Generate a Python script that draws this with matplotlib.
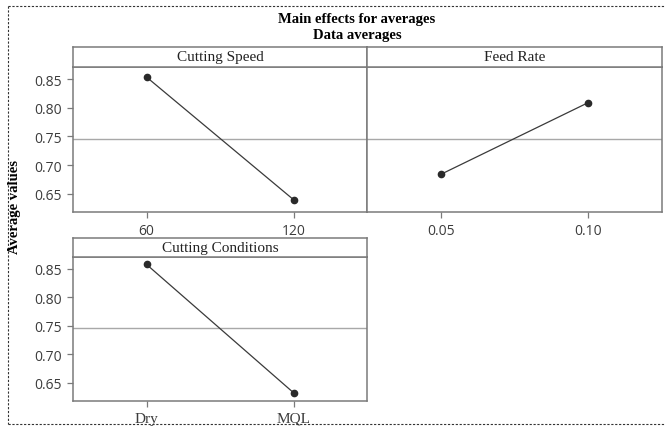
# Main effects plot for averages (Minitab style) rebuilt with matplotlib

import numpy as np
import matplotlib
matplotlib.use('Agg')
import matplotlib.pyplot as plt
from matplotlib.lines import Line2D

# DATA #
speed_levels = ['60', '120']
speed_means = [0.8535, 0.640]
feed_levels = ['0.05', '0.10']
feed_means = [0.684, 0.809]
cond_levels = ['Dry', 'MQL']
cond_means = [0.8575, 0.633]
grand_mean = 0.746
y_ticks = [0.65, 0.70, 0.75, 0.80, 0.85]

# STYLE #
W, H = 665, 427
spine_col = '#7a7a7a'
tick_col = '#3c3c3c'
line_col = '#3a3a3a'
serif = ['Liberation Serif', 'DejaVu Serif']
sans = ['Open Sans', 'DejaVu Sans']

fig = plt.figure(figsize=(W / 100, H / 100), dpi=100)


def px_box(x0, y0, x1, y1):
    # pixel box (top-left origin) -> figure fraction rect
    return [x0 / W, 1 - y1 / H, (x1 - x0) / W, (y1 - y0) / H]


def panel(box, strip_box, title, levels, means, show_y, serif_x):
    ax = fig.add_axes(px_box(*box))
    xs = np.arange(len(levels))
    ax.axhline(grand_mean, color='#a8a8a8', lw=1.0, zorder=1)
    ax.plot(xs, means, color=line_col, lw=0.9, marker='o', ms=4.5,
            mfc='#2a2a2a', mec='#2a2a2a', zorder=3)
    ax.set_xlim(-0.5, 1.5)
    ax.set_ylim(0.619, 0.871)
    ax.set_xticks(xs)
    ax.set_xticklabels(levels)
    ax.set_yticks(y_ticks)
    ax.set_yticklabels(['%.2f' % v for v in y_ticks])
    for s in ax.spines.values():
        s.set_color(spine_col)
        s.set_linewidth(1.1)
    ax.tick_params(axis='both', colors=spine_col, length=4, width=0.9,
                   labelcolor=tick_col, pad=4)
    for lab in ax.get_yticklabels():
        lab.set_family(sans)
        lab.set_fontsize(10)
    for lab in ax.get_xticklabels():
        if serif_x:
            lab.set_family(serif)
            lab.set_fontsize(11)
        else:
            lab.set_family(sans)
            lab.set_fontsize(10)
    if not show_y:
        ax.tick_params(axis='y', left=False, labelleft=False)

    # strip with the factor name
    st = fig.add_axes(px_box(*strip_box))
    st.set_xticks([])
    st.set_yticks([])
    for s in st.spines.values():
        s.set_color(spine_col)
        s.set_linewidth(1.1)
    st.text(0.5, 0.5, title, ha='center', va='center', family=serif,
            fontsize=11, color='#222222', transform=st.transAxes)
    return ax


panel((73, 68, 367, 212.7), (73, 48, 367, 68), 'Cutting Speed',
      speed_levels, speed_means, True, False)
panel((367, 68, 662, 212.7), (367, 48, 662, 68), 'Feed Rate',
      feed_levels, feed_means, False, False)
panel((73, 257.7, 367, 401.7), (73, 239, 367, 257.7), 'Cutting Conditions',
      cond_levels, cond_means, True, True)

# Titles
fig.text(357 / W, 1 - 20 / H, 'Main effects for averages', ha='center',
         va='center', family=serif, fontweight='bold', fontsize=10.5)
fig.text(357 / W, 1 - 36 / H, 'Data averages', ha='center', va='center',
         family=serif, fontweight='bold', fontsize=10.5)
fig.text(15 / W, 1 - 207 / H, 'Average values', ha='center', va='center',
         rotation=90, family=serif, fontweight='bold', fontsize=10.5)

# dotted frame (right side cut off in the original)
bx0, by0, by1 = 8 / W, 1 - 7 / H, 1 - 425 / H
for xd, yd in [([bx0, 1.0], [by0, by0]), ([bx0, bx0], [by0, by1]),
               ([bx0, 1.0], [by1, by1])]:
    fig.add_artist(Line2D(xd, yd, transform=fig.transFigure, color='#333333',
                          lw=0.8, linestyle=(0, (2, 1.5))))

fig.savefig('out.png', dpi=100)
